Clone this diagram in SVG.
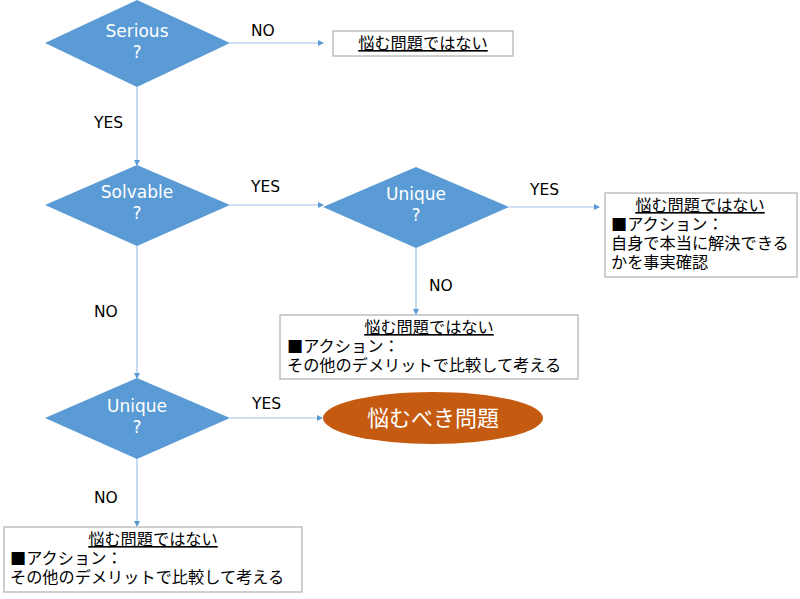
<svg xmlns="http://www.w3.org/2000/svg" width="800" height="599" viewBox="0 0 800 599">
<defs>
<marker id="arr" markerWidth="6" markerHeight="6" refX="5" refY="3" orient="auto" markerUnits="userSpaceOnUse">
<path d="M0,0 L6,3 L0,6 Z" fill="#5B9BD5"/>
</marker>
<style>
.dia{fill:#5B9BD5;}
.dt{font-family:"DejaVu Sans","Noto Sans",sans-serif;font-size:17px;fill:#FFFFFF;text-anchor:middle;}
.lbl{font-family:"DejaVu Sans","Noto Sans",sans-serif;font-size:15.5px;fill:#000000;}
.con{stroke:#9DC3E6;stroke-width:1.2;fill:none;marker-end:url(#arr);}
.box{fill:#FFFFFF;stroke:#BFBFBF;stroke-width:1.5;}
.bt{font-family:"Noto Sans CJK JP","Noto Sans",sans-serif;font-size:16.2px;fill:#000000;}
.hd{text-anchor:middle;text-decoration:underline;}
.ell{fill:#C55A11;}
.et{font-family:"Noto Sans CJK JP","Noto Sans",sans-serif;font-size:22px;fill:#FFFFFF;text-anchor:middle;}
</style>
</defs>
<rect width="800" height="599" fill="#FFFFFF"/>
<g id="connectors">
<line class="con" x1="230" y1="43" x2="323" y2="43"/>
<line class="con" x1="137" y1="87" x2="137" y2="165"/>
<line class="con" x1="230" y1="205" x2="323" y2="205"/>
<line class="con" x1="509" y1="207" x2="599" y2="207"/>
<line class="con" x1="416" y1="248" x2="416" y2="314"/>
<line class="con" x1="137" y1="246" x2="137" y2="378"/>
<line class="con" x1="230" y1="418" x2="322" y2="418"/>
<line class="con" x1="137" y1="459" x2="137" y2="526"/>
<text class="lbl" x="251" y="36">NO</text>
<text class="lbl" x="94" y="128">YES</text>
<text class="lbl" x="251" y="192">YES</text>
<text class="lbl" x="530" y="195">YES</text>
<text class="lbl" x="429" y="291">NO</text>
<text class="lbl" x="94" y="317">NO</text>
<text class="lbl" x="252" y="409">YES</text>
<text class="lbl" x="94" y="503">NO</text>
</g>
<g id="serious">
<polygon class="dia" points="45,43 137,0 230,43 137,87"/>
<text class="dt" x="137" y="37">Serious</text>
<text class="dt" x="137" y="58">?</text>
</g>
<g id="notproblem1">
<rect class="box" x="333" y="31" width="180" height="25"/>
<text class="bt hd" x="423" y="49">悩む問題ではない</text>
</g>
<g id="solvable">
<polygon class="dia" points="45,205 137,165 230,205 137,246"/>
<text class="dt" x="137" y="198">Solvable</text>
<text class="dt" x="137" y="219">?</text>
</g>
<g id="unique1">
<polygon class="dia" points="323,207 416,167 509,207 416,248"/>
<text class="dt" x="416" y="200">Unique</text>
<text class="dt" x="416" y="221">?</text>
</g>
<g id="notproblem2">
<rect class="box" x="605" y="193" width="192" height="84"/>
<text class="bt hd" x="700" y="211">悩む問題ではない</text>
<text class="bt" x="611" y="230">■アクション：</text>
<text class="bt" x="611" y="249">自身で本当に解決できる</text>
<text class="bt" x="611" y="268">かを事実確認</text>
</g>
<g id="notproblem3">
<rect class="box" x="280" y="315" width="298" height="64"/>
<text class="bt hd" x="429" y="333">悩む問題ではない</text>
<text class="bt" x="287" y="352">■アクション：</text>
<text class="bt" x="287" y="371">その他のデメリットで比較して考える</text>
</g>
<g id="unique2">
<polygon class="dia" points="45,418 137,378 230,418 137,459"/>
<text class="dt" x="137" y="412">Unique</text>
<text class="dt" x="137" y="433">?</text>
</g>
<g id="problem">
<ellipse class="ell" cx="433" cy="418" rx="110" ry="26"/>
<text class="et" x="433" y="426">悩むべき問題</text>
</g>
<g id="notproblem4">
<rect class="box" x="4" y="527" width="298" height="65"/>
<text class="bt hd" x="153" y="545">悩む問題ではない</text>
<text class="bt" x="10" y="564">■アクション：</text>
<text class="bt" x="10" y="583">その他のデメリットで比較して考える</text>
</g>
</svg>
